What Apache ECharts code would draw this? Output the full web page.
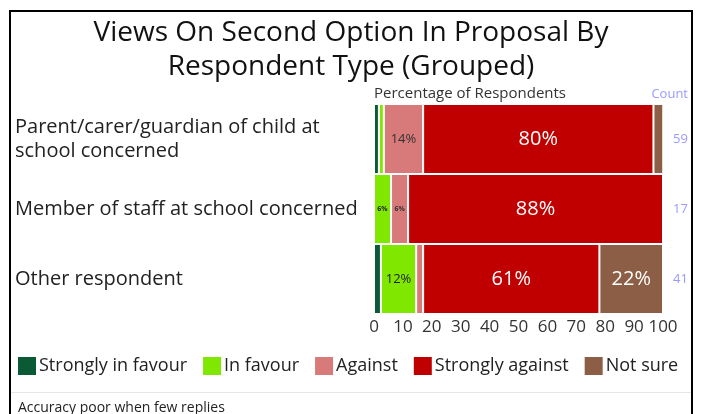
<!DOCTYPE html>
<html>
<head>
<meta charset="utf-8">
<script src="https://cdn.jsdelivr.net/npm/echarts@6/dist/echarts.min.js"></script>
<style>
  html, body { margin: 0; padding: 0; background: #fff; }
  #chart { width: 702px; height: 414px; }
</style>
</head>
<body>
<div id="chart"></div>
<script>
// Respondent groups, top to bottom
const categories = [
  'Parent/carer/guardian of child at school concerned',
  'Member of staff at school concerned',
  'Other respondent'
];
// Number of replies per group
const counts = [59, 17, 41];

// Percentage of respondents per view, one value per group
const stronglyInFavour = [1.7, 0, 2.4];
const inFavour = [1.7, 5.9, 12.2];
const against = [13.6, 5.9, 2.4];
const stronglyAgainst = [79.7, 88.2, 61.0];
const notSure = [3.4, 0, 22.0];

const xTicks = [0, 10, 20, 30, 40, 50, 60, 70, 80, 90, 100];

const FONT = 'Open Sans';
const CAT_SIZE = 20;
const CAT_WIDTH = 362;

const seriesDefs = [
  { name: 'Strongly in favour', values: stronglyInFavour, color: '#0a5a36', text: '#fff' },
  { name: 'In favour', values: inFavour, color: '#80e800', text: '#222' },
  { name: 'Against', values: against, color: '#d77a79', text: '#333' },
  { name: 'Strongly against', values: stronglyAgainst, color: '#c00000', text: '#fff' },
  { name: 'Not sure', values: notSure, color: '#8c5e45', text: '#fff' }
];

// Word-wrap a category name to the space left of the bars
const measureCtx = document.createElement('canvas').getContext('2d');
measureCtx.font = CAT_SIZE + 'px "' + FONT + '"';
function wrapWords(text, maxWidth) {
  const words = text.split(' ');
  const lines = [];
  let line = '';
  words.forEach(w => {
    const trial = line ? line + ' ' + w : w;
    if (line && measureCtx.measureText(trial).width > maxWidth) {
      lines.push(line);
      line = w;
    } else {
      line = trial;
    }
  });
  if (line) lines.push(line);
  return lines.join('\n');
}

// Segment labels scale with how wide the segment is
function labelSize(v) {
  if (v >= 20) return 20;
  if (v >= 10) return 13;
  return 7;
}

const series = seriesDefs.map(def => ({
  name: def.name,
  type: 'bar',
  stack: 'total',
  barCategoryGap: '0%',
  itemStyle: { color: def.color, borderColor: '#fff', borderWidth: 1 },
  emphasis: { disabled: true },
  data: def.values.map(v => ({
    value: v,
    label: {
      show: v >= 5,
      position: 'inside',
      formatter: Math.round(v) + '%',
      color: def.text,
      fontFamily: FONT,
      fontSize: labelSize(v),
      fontWeight: v < 10 ? 'bold' : 'normal'
    }
  }))
}));

const chart = echarts.init(document.getElementById('chart'));
chart.setOption({
  animation: false,
  textStyle: { fontFamily: FONT },
  title: [
    {
      text: 'Views On Second Option In Proposal By\nRespondent Type (Grouped)',
      left: 'center',
      top: 11,
      textStyle: { fontFamily: FONT, fontSize: 28, fontWeight: 'normal', color: '#111', lineHeight: 34 }
    },
    {
      text: 'Percentage of Respondents',
      left: 369,
      top: 81,
      textStyle: { fontFamily: FONT, fontSize: 15, fontWeight: 'normal', color: '#333' }
    },
    {
      text: 'Count',
      right: 9,
      top: 83,
      textStyle: { fontFamily: FONT, fontSize: 13, fontWeight: 'normal', color: '#9a9aff' }
    },
    {
      text: 'Accuracy poor when few replies',
      left: 13,
      top: 396,
      textStyle: { fontFamily: FONT, fontSize: 14, fontWeight: 'normal', color: '#222' }
    }
  ],
  legend: {
    left: 11,
    top: 350,
    icon: 'rect',
    itemWidth: 20,
    itemHeight: 20,
    itemGap: 14,
    textStyle: { fontFamily: FONT, fontSize: 18, color: '#222', padding: [0, 0, 0, -3] },
    data: seriesDefs.map(d => d.name)
  },
  grid: { left: 374, right: 39, top: 104, bottom: 100, containLabel: false },
  xAxis: {
    type: 'value',
    min: xTicks[0],
    max: xTicks[xTicks.length - 1],
    interval: xTicks[1] - xTicks[0],
    axisLine: { show: false },
    axisTick: { show: false },
    splitLine: { show: false },
    axisLabel: { fontFamily: FONT, fontSize: 17, color: '#333', margin: 5 }
  },
  yAxis: [
    {
      type: 'category',
      inverse: true,
      data: categories,
      axisLine: { show: false },
      axisTick: { show: false },
      axisLabel: {
        align: 'left',
        margin: 359,
        lineHeight: 24,
        padding: [6, 0, 0, 0],
        fontFamily: FONT,
        fontSize: CAT_SIZE,
        color: '#222',
        formatter: val => wrapWords(val, CAT_WIDTH)
      }
    },
    {
      type: 'category',
      inverse: true,
      position: 'right',
      data: categories,
      axisLine: { show: false },
      axisTick: { show: false },
      axisLabel: {
        margin: 10,
        fontFamily: FONT,
        fontSize: 13,
        color: '#9a9aff',
        formatter: (val, idx) => String(counts[idx])
      }
    }
  ],
  graphic: [
    {
      type: 'rect',
      shape: { x: 10, y: 11, width: 682, height: 430 },
      style: { fill: 'none', stroke: '#000', lineWidth: 2 },
      silent: true
    },
    {
      type: 'line',
      shape: { x1: 11, y1: 392.5, x2: 691, y2: 392.5 },
      style: { stroke: '#e6e6e6', lineWidth: 1 },
      silent: true
    }
  ],
  series: series
});
</script>
</body>
</html>
